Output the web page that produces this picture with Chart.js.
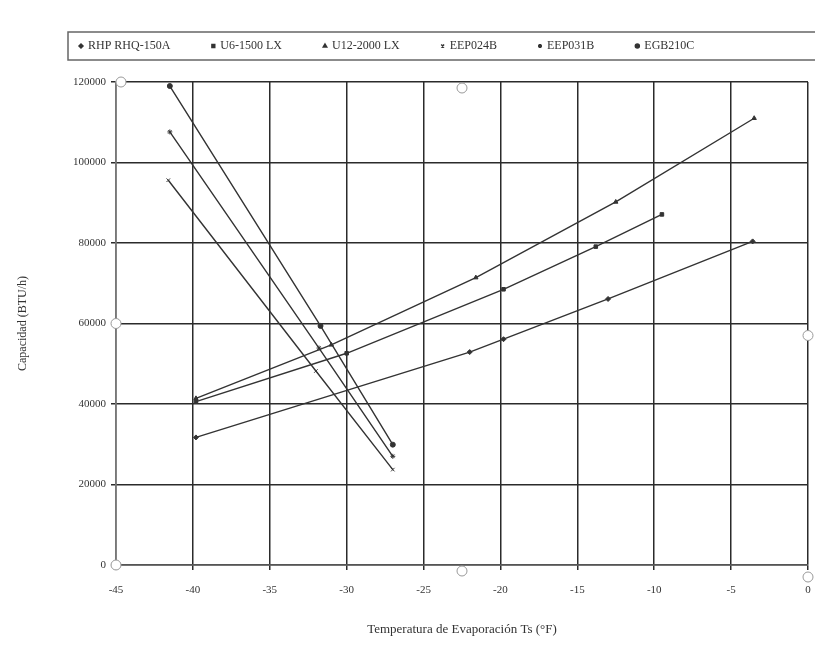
<!DOCTYPE html>
<html>
<head>
<meta charset="utf-8">
<script src="https://cdn.jsdelivr.net/npm/chart.js@4.4.0/dist/chart.umd.min.js"></script>
<style>
  body { margin: 0; background: #fff; }
  #wrap { width: 815px; height: 647px; }
</style>
</head>
<body>
<div id="wrap"><canvas id="chart" width="815" height="647"></canvas></div>
<script>
// series (temperature in °F, capacity in BTU/h)
const seriesNames = ['RHP RHQ-150A', 'U6-1500 LX', 'U12-2000 LX', 'EEP024B', 'EEP031B', 'EGB210C'];
const markerStyles = ['rectRot', 'rect', 'triangle', 'crossRot', 'star', 'circle'];

const rhpTemp = [-39.8, -22, -19.8, -13, -3.6];
const rhpCap = [31700, 52900, 56100, 66100, 80400];

const u6Temp = [-39.8, -30, -19.8, -13.8, -9.5];
const u6Cap = [40600, 52600, 68500, 79100, 87100];

const u12Temp = [-39.8, -31, -21.6, -12.5, -3.5];
const u12Cap = [41400, 54700, 71400, 90200, 111000];

const eep024Temp = [-41.6, -32, -27];
const eep024Cap = [95600, 48200, 23700];

const eep031Temp = [-41.5, -31.8, -27];
const eep031Cap = [107600, 53900, 27000];

const egbTemp = [-41.5, -31.7, -27];
const egbCap = [119000, 59400, 29900];

const xTicks = [-45, -40, -35, -30, -25, -20, -15, -10, -5, 0];
const yTicks = [0, 20000, 40000, 60000, 80000, 100000, 120000];

const temps = [rhpTemp, u6Temp, u12Temp, eep024Temp, eep031Temp, egbTemp];
const caps = [rhpCap, u6Cap, u12Cap, eep024Cap, eep031Cap, egbCap];

function pts(t, c) {
    return t.map((v, i) => ({ x: v, y: c[i] }));
}

const serif = '"Liberation Serif", "DejaVu Serif", serif';
const ink = '#333';

// legend drawn as a framed strip like the excel one
const legendStrip = {
    id: 'legendStrip',
    afterDraw(chart) {
        const ctx = chart.ctx;
        ctx.save();
        ctx.strokeStyle = '#666';
        ctx.lineWidth = 1.5;
        ctx.strokeRect(68, 32, 760, 28);
        ctx.font = '12px ' + serif;
        ctx.textBaseline = 'middle';
        let x = 81;
        chart.data.datasets.forEach(ds => {
            ctx.fillStyle = ink;
            ctx.strokeStyle = ink;
            Chart.helpers.drawPoint(ctx, { pointStyle: ds.pointStyle, radius: 2, borderWidth: 1 }, x, 46);
            ctx.fillStyle = ink;
            ctx.fillText(ds.label, x + 7, 46);
            x += 7 + ctx.measureText(ds.label).width + 43;
        });
        ctx.restore();
    }
};

// selection handles visible on the scanned plot area
const handles = {
    id: 'handles',
    afterDraw(chart) {
        const a = chart.chartArea;
        const ctx = chart.ctx;
        const mx = (a.left + a.right) / 2, my = (a.top + a.bottom) / 2;
        const spots = [[a.left + 5, a.top], [mx, a.top + 6], [a.left, my], [a.right, my + 12],
                       [a.left, a.bottom], [mx, a.bottom + 6], [a.right, a.bottom + 12]];
        ctx.save();
        ctx.fillStyle = '#fff';
        ctx.strokeStyle = '#999';
        ctx.lineWidth = 1;
        spots.forEach(p => {
            ctx.beginPath();
            ctx.arc(p[0], p[1], 5, 0, Math.PI * 2);
            ctx.fill();
            ctx.stroke();
        });
        ctx.restore();
    }
};

new Chart(document.getElementById('chart'), {
    type: 'scatter',
    data: {
        datasets: seriesNames.map((name, i) => ({
            label: name,
            data: pts(temps[i], caps[i]),
            showLine: true,
            borderColor: ink,
            backgroundColor: ink,
            borderWidth: 1.4,
            pointStyle: markerStyles[i],
            pointRadius: 2.5,
            pointBorderWidth: 1,
            tension: 0
        }))
    },
    options: {
        responsive: false,
        animation: false,
        layout: { padding: { top: 82, right: 0, left: 0, bottom: 0 } },
        plugins: {
            legend: { display: false },
            tooltip: { enabled: false }
        },
        scales: {
            x: {
                type: 'linear',
                min: xTicks[0],
                max: xTicks[xTicks.length - 1],
                afterBuildTicks: s => { s.ticks = xTicks.map(v => ({ value: v })); },
                afterFit: s => { s.height = 82; s.paddingRight = 7; },
                grid: { color: '#2b2b2b', lineWidth: 1.5, tickLength: 5 },
                border: { color: '#555', width: 1.5 },
                ticks: { color: ink, font: { family: serif, size: 11 }, padding: 14 },
                title: {
                    display: true,
                    text: 'Temperatura de Evaporación Ts (°F)',
                    color: ink,
                    font: { family: serif, size: 13 },
                    padding: { top: 0, bottom: 10 }
                }
            },
            y: {
                min: yTicks[0],
                max: yTicks[yTicks.length - 1],
                afterBuildTicks: s => { s.ticks = yTicks.map(v => ({ value: v })); },
                afterFit: s => { s.width = 116; },
                grid: { color: '#2b2b2b', lineWidth: 1.5, tickLength: 5 },
                border: { color: '#777', width: 1.5 },
                ticks: {
                    color: ink,
                    font: { family: serif, size: 11 },
                    padding: 5,
                    callback: v => String(v)
                },
                title: {
                    display: true,
                    text: 'Capacidad (BTU/h)',
                    color: ink,
                    font: { family: serif, size: 12 },
                    padding: { top: 16, bottom: 0 }
                }
            }
        }
    },
    plugins: [legendStrip, handles]
});
</script>
</body>
</html>
